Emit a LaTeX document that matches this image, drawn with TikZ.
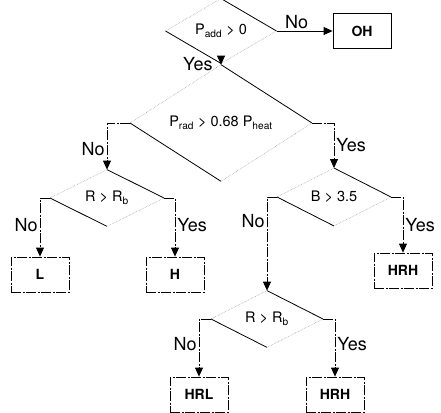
\documentclass[tikz,border=0pt]{standalone}
\usepackage{fontspec}
\setmainfont{TeX Gyre Heros}
\usetikzlibrary{arrows.meta,shapes.geometric}
\tikzset{
  test/.style={diamond, inner sep=0pt, outer sep=0pt,
               font=\fontsize{14.5}{16}\selectfont},
  leaf/.style={draw, line width=0.8pt, minimum width=58pt, minimum height=35pt,
               inner sep=0pt, font=\bfseries\fontsize{14}{16}\selectfont,
               dash pattern=on 10pt off 1.5pt on 2pt off 1.5pt},
  branch/.style={line width=0.8pt, -{Triangle[width=8pt,length=9pt]},
                 dash pattern=on 10pt off 1.5pt on 2pt off 1.5pt},
  ans/.style={font=\fontsize{18}{20}\selectfont, inner sep=2pt},
  solidedge/.style={line width=0.8pt},
  faintedge/.style={line width=0.6pt, black!35, densely dotted},
}
\newcommand{\testedges}[1]{%
  \draw[faintedge] (#1.west) -- (#1.north);
  \draw[solidedge] (#1.north) -- (#1.east);
  \draw[faintedge] (#1.east) -- (#1.south);
  \draw[solidedge] (#1.south) -- (#1.west);
}

\begin{document}
\begin{tikzpicture}[x=1pt, y=-1pt, >=Stealth]
  \useasboundingbox (0,0) rectangle (441,412);
  % decisions
  \node[test, minimum width=111pt, minimum height=34pt] (Padd) at (221,31) {P\textsubscript{add} > 0};
  \node[test, minimum width=182pt, minimum height=77pt] (Prad) at (221,123) {P\textsubscript{rad} > 0.68 P\textsubscript{heat}};
  \node[test, minimum width=114pt, minimum height=37pt] (RbL) at (107,198) {R > R\textsubscript{b}};
  \node[test, minimum width=114pt, minimum height=34pt] (Bfield) at (334,197) {B > 3.5};
  \node[test, minimum width=112pt, minimum height=35pt] (RbR) at (267,319) {R > R\textsubscript{b}};
  \testedges{Padd}
  \testedges{Prad}
  \testedges{RbL}
  \testedges{Bfield}
  \testedges{RbR}
  % regimes
  \node[leaf, solid] (OH) at (362,31) {OH};
  \node[leaf] (L) at (40,274.5) {L};
  \node[leaf] (H) at (175,274.5) {H};
  \node[leaf] (HRHa) at (403,270.5) {HRH};
  \node[leaf] (HRL) at (199,394.5) {HRL};
  \node[leaf] (HRHb) at (335,394.5) {HRH};
  % branches
  \draw[branch, solid] (Padd.east) -- node[ans, above, pos=0.36]{No} (OH.west);
  \draw[branch] (Padd.south) -- node[ans, left, pos=0.45, xshift=-6pt]{Yes} (Prad.north);
  \draw[branch] (Prad.west) -| node[ans, left, pos=0.78]{No} (RbL.north);
  \draw[branch] (Prad.east) -| node[ans, right, pos=0.75]{Yes} (Bfield.north);
  \draw[branch] (RbL.west) -| node[ans, left, pos=0.73]{No} (L.north);
  \draw[branch] (RbL.east) -| node[ans, right, pos=0.73]{Yes} (H.north);
  \draw[branch] (Bfield.west) -| node[ans, left, pos=0.63]{No} (RbR.north);
  \draw[branch] (Bfield.east) -| node[ans, right, pos=0.75]{Yes} (HRHa.north);
  \draw[branch] (RbR.west) -| node[ans, left, pos=0.72]{No} (HRL.north);
  \draw[branch] (RbR.east) -| node[ans, right, pos=0.72]{Yes} (HRHb.north);
\end{tikzpicture}
\end{document}
